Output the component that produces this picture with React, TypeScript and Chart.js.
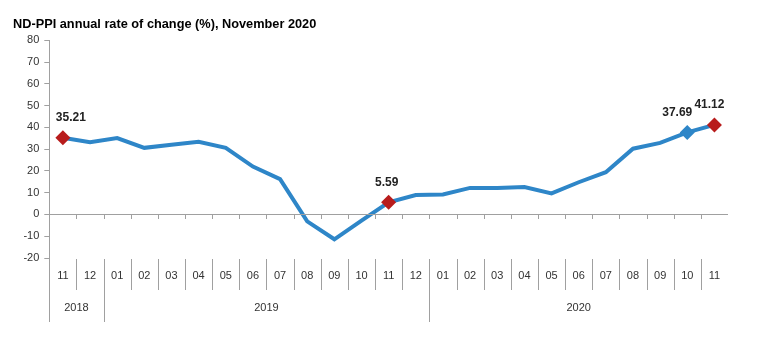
import React, { useEffect, useRef } from "react";
import { Chart, registerables } from "chart.js";

Chart.register(...registerables);

const TITLE = "ND-PPI annual rate of change (%), November 2020";
const MONTHS = ["11", "12", "01", "02", "03", "04", "05", "06", "07", "08", "09", "10", "11", "12", "01", "02", "03", "04", "05", "06", "07", "08", "09", "10", "11"];
const YEARS = ["2018", "2018", "2019", "2019", "2019", "2019", "2019", "2019", "2019", "2019", "2019", "2019", "2019", "2019", "2020", "2020", "2020", "2020", "2020", "2020", "2020", "2020", "2020", "2020", "2020"];
const VALUES = [35.21, 33.2, 35.1, 30.6, 32.0, 33.4, 30.6, 22.0, 16.2, -3.2, -11.4, -2.8, 5.59, 8.9, 9.2, 12.2, 12.2, 12.6, 9.7, 14.8, 19.4, 30.2, 32.9, 37.69, 41.12];
const RED_POINTS = [0, 12, 24];
const BLUE_POINTS = [23];
const LABELLED = [0, 12, 23, 24];
const Y_MIN = -20;
const Y_MAX = 80;
const Y_STEP = 10;

const LINE_COLOR = "#2e86c8";
const RED = "#b81c1c";
const AXIS = "#a0a0a0";
const TEXT = "#333333";
const FONT = "'Liberation Sans', Arial, sans-serif";

const overlay = {
  id: "overlay",
  afterDraw(chart: any) {
    const ctx = chart.ctx;
    const x = chart.scales.x;
    const y = chart.scales.y;
    const area = chart.chartArea;
    const n = MONTHS.length;
    const step = (area.right - area.left) / n;
    const y0 = y.getPixelForValue(0);
    const tableTop = area.bottom + 1;
    const monthBottom = tableTop + 31;
    const yearBottom = tableTop + 63;
    ctx.save();
    ctx.strokeStyle = AXIS;
    ctx.lineWidth = 1;
    ctx.beginPath();
    ctx.moveTo(area.left, Math.round(y0) + 0.5);
    ctx.lineTo(area.right, Math.round(y0) + 0.5);
    ctx.stroke();
    ctx.beginPath();
    ctx.moveTo(Math.round(area.left) + 0.5, area.bottom);
    ctx.lineTo(Math.round(area.left) + 0.5, yearBottom);
    ctx.stroke();
    for (let i = 1; i < n; i++) {
      const bx = Math.round(area.left + i * step) + 0.5;
      ctx.beginPath();
      ctx.moveTo(bx, Math.round(y0));
      ctx.lineTo(bx, Math.round(y0) + 5);
      ctx.stroke();
      const yearBreak = YEARS[i] !== YEARS[i - 1];
      ctx.beginPath();
      ctx.moveTo(bx, tableTop);
      ctx.lineTo(bx, yearBreak ? yearBottom : monthBottom);
      ctx.stroke();
    }
    ctx.fillStyle = TEXT;
    ctx.font = `11px ${FONT}`;
    ctx.textAlign = "center";
    ctx.textBaseline = "middle";
    MONTHS.forEach((m, i) => {
      ctx.fillText(m, x.getPixelForValue(i), tableTop + 17);
    });
    let start = 0;
    for (let i = 1; i <= n; i++) {
      if (i === n || YEARS[i] !== YEARS[start]) {
        const cx = (x.getPixelForValue(start) + x.getPixelForValue(i - 1)) / 2;
        ctx.fillText(YEARS[start], cx, tableTop + 49);
        start = i;
      }
    }
    ctx.font = `bold 12px ${FONT}`;
    ctx.fillStyle = "#222222";
    LABELLED.forEach((i) => {
      const px = x.getPixelForValue(i);
      const py = y.getPixelForValue(VALUES[i]);
      let dx = 8;
      if (i === 23) dx = -10;
      if (i === 12) dx = -2;
      if (i === 24) dx = -5;
      ctx.fillText(VALUES[i].toFixed(2), px + dx, py - 20);
    });
    ctx.restore();
  },
};

export default function App() {
  const ref = useRef<HTMLCanvasElement | null>(null);
  useEffect(() => {
    if (!ref.current) return;
    const radii = VALUES.map((_, i) => (RED_POINTS.includes(i) || BLUE_POINTS.includes(i) ? 7.5 : 0));
    const colors = VALUES.map((_, i) => (RED_POINTS.includes(i) ? RED : LINE_COLOR));
    const chart = new Chart(ref.current, {
      type: "line",
      data: {
        labels: MONTHS.map((m, i) => `${m}/${YEARS[i]}`),
        datasets: [
          {
            data: VALUES,
            borderColor: LINE_COLOR,
            borderWidth: 4,
            pointStyle: "rectRot",
            pointRadius: radii,
            pointBackgroundColor: colors,
            pointBorderColor: colors,
            pointBorderWidth: 0,
            tension: 0,
          },
        ],
      },
      options: {
        animation: false,
        responsive: false,
        maintainAspectRatio: false,
        layout: { padding: { left: 13, right: 40, top: 0, bottom: 86 } },
        plugins: {
          legend: { display: false },
          tooltip: { enabled: false },
          title: {
            display: true,
            text: TITLE,
            align: "start",
            color: "#000000",
            font: { family: FONT, size: 12.75, weight: "bold" },
            padding: { top: 17, bottom: 8 },
          },
        },
        scales: {
          x: {
            type: "category",
            offset: true,
            display: false,
          },
          y: {
            min: Y_MIN,
            max: Y_MAX,
            afterFit: (axis: any) => {
              axis.width = 36.3;
            },
            ticks: {
              stepSize: Y_STEP,
              color: TEXT,
              padding: 5,
              font: { family: FONT, size: 11 },
            },
            grid: {
              drawOnChartArea: false,
              drawTicks: true,
              tickLength: 5,
              color: AXIS,
            },
            border: { display: true, color: AXIS },
          },
        },
      },
      plugins: [overlay],
    });
    return () => chart.destroy();
  }, []);
  return (
    <div style={{ position: "fixed", left: 0, top: 0, width: 768, height: 344, background: "#fff" }}>
      <canvas ref={ref} width={768} height={344} />
    </div>
  );
}
